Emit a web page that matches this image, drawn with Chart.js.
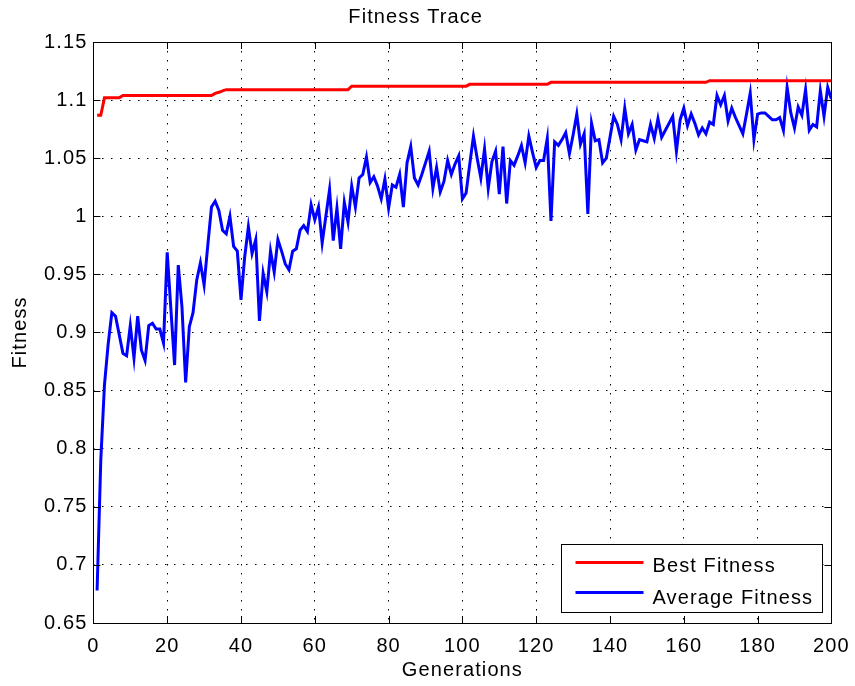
<!DOCTYPE html>
<html>
<head>
<meta charset="utf-8">
<title>Fitness Trace</title>
<script src="https://cdn.jsdelivr.net/npm/chart.js@4.4.1/dist/chart.umd.min.js"></script>
<style>
  html, body { margin: 0; padding: 0; background: #fff; }
  canvas { display: block; }
</style>
</head>
<body>
<canvas id="fitness-trace" width="855" height="686"></canvas>
<script>
// Average fitness of the population, one value per generation (1..200)
const avgFitness = [
    0.678, 0.79, 0.855, 0.89, 0.917, 0.914, 0.898, 0.882, 0.880, 0.906,
    0.878, 0.914, 0.885, 0.876, 0.906, 0.908, 0.903, 0.903, 0.891, 0.969,
    0.92, 0.872, 0.958, 0.922, 0.857, 0.905, 0.917, 0.945, 0.960, 0.941,
    0.975, 1.008, 1.013, 1.005, 0.988, 0.985, 1.000, 0.974, 0.970, 0.928,
    0.965, 0.991, 0.968, 0.980, 0.910, 0.951, 0.935, 0.970, 0.952, 0.980,
    0.970, 0.959, 0.954, 0.970, 0.972, 0.988, 0.992, 0.987, 1.010, 0.997,
    1.008, 0.977, 1.000, 1.023, 0.979, 1.007, 0.972, 1.012, 0.995, 1.026,
    1.008, 1.033, 1.036, 1.051, 1.029, 1.034, 1.026, 1.015, 1.032, 1.007,
    1.027, 1.025, 1.036, 1.008, 1.046, 1.060, 1.033, 1.027, 1.036, 1.046,
    1.056, 1.024, 1.042, 1.021, 1.030, 1.048, 1.036, 1.045, 1.052, 1.015,
    1.020, 1.045, 1.069, 1.050, 1.033, 1.058, 1.024, 1.047, 1.056, 1.019,
    1.060, 1.011, 1.048, 1.044, 1.052, 1.061, 1.046, 1.069, 1.055, 1.042,
    1.048, 1.048, 1.067, 0.996, 1.064, 1.061, 1.066, 1.072, 1.054, 1.070,
    1.088, 1.062, 1.071, 1.002, 1.080, 1.065, 1.066, 1.046, 1.050, 1.068,
    1.086, 1.079, 1.066, 1.093, 1.071, 1.079, 1.057, 1.066, 1.065, 1.064,
    1.079, 1.067, 1.084, 1.068, 1.074, 1.080, 1.086, 1.056, 1.083, 1.093,
    1.078, 1.088, 1.080, 1.070, 1.076, 1.071, 1.081, 1.079, 1.104, 1.096,
    1.104, 1.082, 1.093, 1.085, 1.078, 1.071, 1.088, 1.106, 1.066, 1.088,
    1.089, 1.089, 1.086, 1.083, 1.083, 1.085, 1.074, 1.111, 1.089, 1.076,
    1.094, 1.087, 1.109, 1.074, 1.079, 1.077, 1.108, 1.086, 1.111, 1.101
];

// Best fitness only changes now and then, so keep the generations where it moves
const bestGen = [1, 2, 3, 7, 8, 32, 33, 34, 35, 36, 69, 70, 101, 102, 123, 124, 166, 167, 200];
const bestFit = [1.087, 1.087, 1.102, 1.102, 1.104, 1.104, 1.1058, 1.1067, 1.108, 1.109,
                 1.109, 1.112, 1.112, 1.1136, 1.1136, 1.1153, 1.1153, 1.1167, 1.1167];

const xTickValues = [0, 20, 40, 60, 80, 100, 120, 140, 160, 180, 200];
const yTickValues = [0.65, 0.7, 0.75, 0.8, 0.85, 0.9, 0.95, 1, 1.05, 1.1, 1.15];

const FONT_FAMILY = '"Liberation Sans", Arial, Helvetica, sans-serif';
const textFont = { family: FONT_FAMILY, size: 20, weight: 'normal' };

// Helvetica in the old plots runs a bit wider than Arial
const wideText = {
    id: 'wideText',
    beforeDraw(chart) {
        chart.ctx.letterSpacing = '1.1px';
    }
};

// Black box round the plot with short ticks pointing inwards on all four sides
const boxAxes = {
    id: 'boxAxes',
    afterDatasetsDraw(chart) {
        const { ctx, chartArea: a, scales: { x, y } } = chart;
        const len = 7;
        ctx.save();
        ctx.strokeStyle = '#000';
        ctx.lineWidth = 1;
        ctx.beginPath();
        xTickValues.forEach(v => {
            const px = Math.round(x.getPixelForValue(v)) + 0.5;
            ctx.moveTo(px, a.bottom); ctx.lineTo(px, a.bottom - len);
            ctx.moveTo(px, a.top); ctx.lineTo(px, a.top + len);
        });
        yTickValues.forEach(v => {
            const py = Math.round(y.getPixelForValue(v)) + 0.5;
            ctx.moveTo(a.left, py); ctx.lineTo(a.left + len, py);
            ctx.moveTo(a.right, py); ctx.lineTo(a.right - len, py);
        });
        ctx.stroke();
        ctx.strokeRect(Math.round(a.left) + 0.5, Math.round(a.top) + 0.5,
                       Math.round(a.width), Math.round(a.height));
        ctx.restore();
    }
};

// Legend boxed in the lower right corner of the plot
const boxLegend = {
    id: 'boxLegend',
    afterDraw(chart) {
        const { ctx, chartArea: a } = chart;
        const w = 261, h = 68;
        const left = Math.round(a.right - 9 - w) + 0.5;
        const top = Math.round(a.bottom - 11 - h) + 0.5;
        const lineY = [18, 48];
        const baseY = [27, 59];
        ctx.save();
        ctx.fillStyle = '#fff';
        ctx.fillRect(left, top, w, h);
        ctx.strokeStyle = '#000';
        ctx.lineWidth = 1;
        ctx.strokeRect(left, top, w, h);
        ctx.font = '20px ' + FONT_FAMILY;
        ctx.textBaseline = 'alphabetic';
        ctx.textAlign = 'left';
        chart.data.datasets.forEach((ds, i) => {
            ctx.strokeStyle = ds.borderColor;
            ctx.lineWidth = ds.borderWidth;
            ctx.beginPath();
            ctx.moveTo(left + 14, top + lineY[i]);
            ctx.lineTo(left + 82, top + lineY[i]);
            ctx.stroke();
            ctx.fillStyle = '#000';
            ctx.fillText(ds.label, left + 91, top + baseY[i]);
        });
        ctx.restore();
    }
};

new Chart(document.getElementById('fitness-trace'), {
    type: 'line',
    data: {
        datasets: [
            {
                label: 'Best Fitness',
                data: bestGen.map((g, i) => ({ x: g, y: bestFit[i] })),
                borderColor: '#ff0000',
                borderWidth: 3,
                pointRadius: 0,
                fill: false,
                tension: 0
            },
            {
                label: 'Average Fitness',
                data: avgFitness.map((v, i) => ({ x: i + 1, y: v })),
                borderColor: '#0000ff',
                borderWidth: 3,
                pointRadius: 0,
                fill: false,
                tension: 0
            }
        ]
    },
    options: {
        responsive: false,
        animation: false,
        devicePixelRatio: 1,
        layout: { padding: { left: 0, right: 23.6, top: 0, bottom: 0 } },
        plugins: {
            legend: { display: false },
            tooltip: { enabled: false },
            title: {
                display: true,
                text: 'Fitness Trace',
                color: '#000',
                font: textFont,
                padding: { top: 5, bottom: 13 }
            }
        },
        scales: {
            x: {
                type: 'linear',
                min: 0,
                max: 200,
                afterBuildTicks: s => { s.ticks = xTickValues.map(value => ({ value })); },
                afterFit: s => { s.height = 63; s.paddingLeft = 0; s.paddingRight = 0; },
                grid: { color: '#000', lineWidth: 1, drawTicks: false },
                border: { display: false, dash: [1.5, 7.5] },
                ticks: { color: '#000', font: textFont, padding: 11, maxRotation: 0, autoSkip: false },
                title: { display: true, text: 'Generations', color: '#000', font: textFont, padding: { top: 0, bottom: 4 } }
            },
            y: {
                type: 'linear',
                min: 0.65,
                max: 1.15,
                afterBuildTicks: s => { s.ticks = yTickValues.map(value => ({ value })); },
                afterFit: s => { s.width = 93.4; s.paddingTop = 0; s.paddingBottom = 0; },
                grid: { color: '#000', lineWidth: 1, drawTicks: false },
                border: { display: false, dash: [1.5, 7.5] },
                ticks: { color: '#000', font: textFont, padding: 6, callback: v => String(v) },
                title: { display: true, text: 'Fitness', color: '#000', font: textFont, padding: { top: 8, bottom: 0 } }
            }
        }
    },
    plugins: [wideText, boxAxes, boxLegend]
});
</script>
</body>
</html>
